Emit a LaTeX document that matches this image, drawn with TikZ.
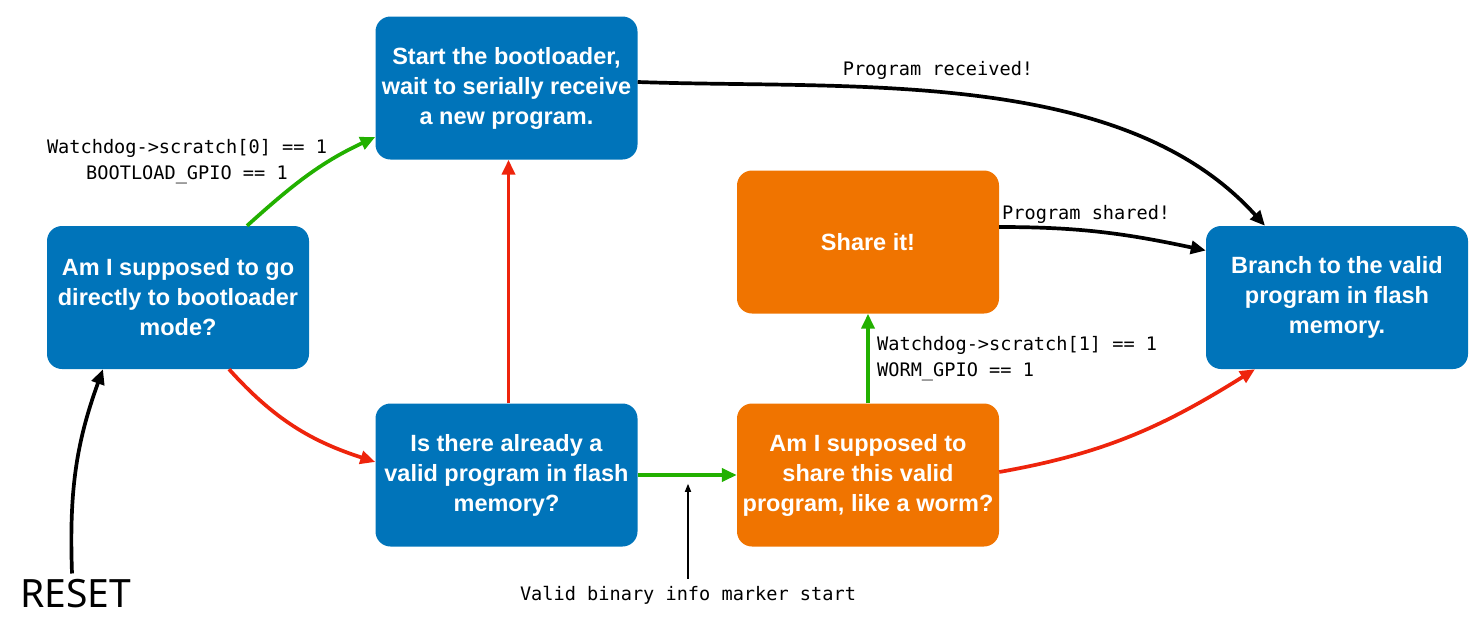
\documentclass[tikz,border=0pt]{standalone}
\usepackage{fontspec}
\setmainfont{Liberation Sans}
\newfontfamily\codefont{DejaVu Sans Mono}
\newfontfamily\resetfont{Noto Sans}
\usetikzlibrary{arrows.meta}

\definecolor{stateblue}{RGB}{0,116,186}
\definecolor{stateorange}{RGB}{240,116,0}
\definecolor{yesgreen}{RGB}{34,176,0}
\definecolor{nored}{RGB}{238,36,12}

\begin{document}
\begin{tikzpicture}[x=1pt, y=-1pt,
		state/.style={fill=stateblue, text=white, rounded corners=15pt, minimum width=262pt, minimum height=143pt, align=center, font=\fontsize{23.5}{30}\selectfont\bfseries, inner sep=0pt},
		worm/.style={state, fill=stateorange},
		link/.style={line width=3.7pt, -{Triangle[length=15pt,width=13pt]}},
		code/.style={font=\codefont\fontsize{18.6}{26}\selectfont, inner sep=0pt}]
		\useasboundingbox (0,0) rectangle (1483,635);

		%the states, blue ones for the bootloader path, orange ones for the worm
		\node[state] (boot) at (178,297.5) {Am I supposed to go\\ directly to bootloader\\ mode?};
		\node[state] (loader) at (506.5,88) {Start the bootloader,\\ wait to serially receive\\ a new program.};
		\node[state] (valid) at (506.5,475) {Is there already a\\ valid program in flash\\ memory?};
		\node[worm] (share) at (868,242) {Share it!};
		\node[worm] (ask) at (868,475) {Am I supposed to\\ share this valid\\ program, like a worm?};
		\node[state] (branch) at (1337,297.5) {Branch to the valid\\ program in flash\\ memory.};

		%where it all starts
		\node[font=\resetfont\fontsize{39}{42}\selectfont, inner sep=0pt] (reset) at (76,594) {RESET};
		\draw[link, black] (reset.north) ++(-4,-6) coordinate (r0) (r0) to[out=92, in=-110] ([xshift=-75pt]boot.south);

		%yes (green) and no (red) branches
		\draw[link, yesgreen] ([xshift=69pt]boot.north) to[out=42, in=205] ([yshift=-49pt]loader.west);
		\draw[link, nored] ([xshift=51pt]boot.south) to[out=-48, in=162] ([yshift=13pt]valid.west);
		\draw[link, nored] ([xshift=2pt]valid.north) -- ([xshift=2pt]loader.south);
		\draw[link, yesgreen] (valid.east) -- (ask.west);
		\draw[link, yesgreen] (ask.north) -- (share.south);
		\draw[link, nored] ([yshift=3pt]ask.east) to[out=10, in=-148] ([xshift=-82pt]branch.south);

		%done, jump to the program
		\draw[link, black] ([yshift=6pt]loader.east) to[out=-2, in=132, looseness=0.85] ([xshift=-72pt]branch.north);
		\draw[link, black] ([yshift=15pt]share.east) to[out=0, in=168] ([yshift=47pt]branch.west);

		%labels on the connectors
		\node[code, align=center] (bootcond) at (187,162) {Watchdog->scratch[0] == 1\\ BOOTLOAD\_GPIO == 1};
		\node[code, anchor=west, align=left] (wormcond) at (877,358.5) {Watchdog->scratch[1] == 1\\ WORM\_GPIO == 1};
		\node[code] (received) at (938,70) {Program received!};
		\node[code, anchor=west] (shared) at (1002,214) {Program shared!};

		%marker in between the two checks
		\node[code] (marker) at (688,595) {Valid binary info marker start};
		\draw[line width=1.5pt, -{Triangle[length=8pt,width=6pt]}] ([yshift=7pt]marker.north) -- ++(0,-95) coordinate (markertip);
	\end{tikzpicture}
\end{document}
